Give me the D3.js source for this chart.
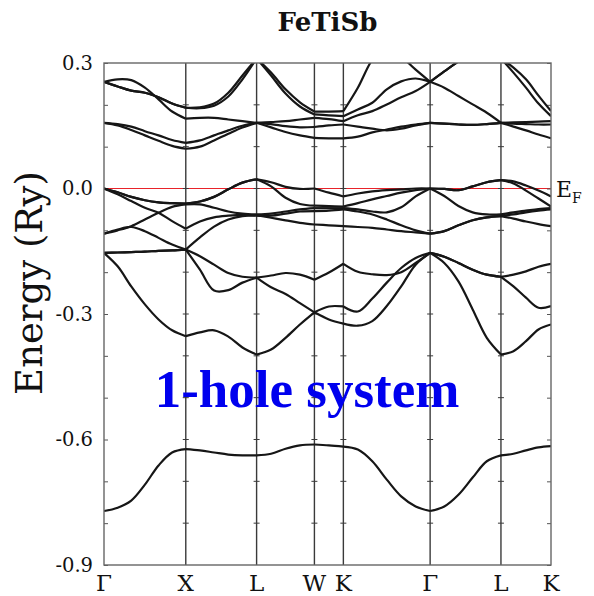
<!DOCTYPE html>
<html>
<head>
<meta charset="utf-8">
<script src="https://cdn.jsdelivr.net/npm/d3@7"></script>
<style>
  body { margin: 0; background: #fff; }
</style>
</head>
<body>
<div id="chart"></div>
<script>
// high symmetry points along the path (k in units of 2pi/a)
var symLabels = ["Γ", "X", "L", "W", "K", "Γ", "L", "K"];
var symK = [0, 1, 1.866, 2.573, 2.927, 3.988, 4.854, 5.466];

var kGrid = [0, 0.167, 0.333, 0.5, 0.667, 0.833, 1.0,
  1.173, 1.346, 1.52, 1.693, 1.866,
  2.043, 2.22, 2.396, 2.573,
  2.75, 2.927,
  3.104, 3.281, 3.458, 3.634, 3.811, 3.988,
  4.161, 4.334, 4.508, 4.681, 4.854,
  5.007, 5.16, 5.313, 5.466];
// index of grid point at each symmetry point
var segEnds = [0, 6, 11, 15, 17, 23, 28, 32];

// y axis
var yTicks = [-0.9, -0.8, -0.7, -0.6, -0.5, -0.4, -0.3, -0.2, -0.1, 0, 0.1, 0.2, 0.3];
var yLabels = {"-0.9": "-0.9", "-0.6": "-0.6", "-0.3": "-0.3", "0": "0.0", "0.3": "0.3"};

// bands (Ry)
var bandS = [-0.771, -0.763, -0.746, -0.708, -0.662, -0.631, -0.623,
  -0.626, -0.631, -0.636, -0.638, -0.638,
  -0.634, -0.622, -0.614, -0.612,
  -0.614, -0.617,
  -0.624, -0.652, -0.696, -0.736, -0.760, -0.771,
  -0.760, -0.732, -0.691, -0.652, -0.638,
  -0.634, -0.626, -0.619, -0.616];
var bandP1 = [-0.154, -0.186, -0.234, -0.277, -0.313, -0.339, -0.353,
  -0.344, -0.339, -0.354, -0.380, -0.397,
  -0.385, -0.357, -0.325, -0.296,
  -0.282, -0.282,
  -0.294, -0.263, -0.225, -0.190, -0.166, -0.154,
  -0.178, -0.222, -0.289, -0.357, -0.397,
  -0.389, -0.365, -0.337, -0.325];
var bandP2 = [-0.154, -0.153, -0.152, -0.151, -0.149, -0.148, -0.146,
  -0.162, -0.182, -0.202, -0.211, -0.213,
  -0.208, -0.202, -0.206, -0.218,
  -0.201, -0.180,
  -0.199, -0.205, -0.207, -0.200, -0.178, -0.154,
  -0.163, -0.178, -0.194, -0.206, -0.211,
  -0.206, -0.198, -0.187, -0.180];
var bandP3 = [-0.154, -0.153, -0.152, -0.151, -0.149, -0.148, -0.146,
  -0.194, -0.244, -0.243, -0.225, -0.213,
  -0.236, -0.252, -0.274, -0.296,
  -0.313, -0.323,
  -0.328, -0.317, -0.281, -0.234, -0.182, -0.154,
  -0.163, -0.178, -0.194, -0.206, -0.211,
  -0.234, -0.261, -0.285, -0.281];
var bandD1 = [0, -0.009, -0.020, -0.028, -0.033, -0.035, -0.036,
  -0.031, -0.020, -0.002, 0.014, 0.022,
  0.015, 0.004, -0.001, 0,
  -0.010, -0.019,
  -0.012, -0.007, -0.004, -0.002, 0, 0,
  -0.001, -0.004, 0.005, 0.015, 0.020,
  0.017, 0.007, -0.005, -0.019];
var bandD2 = [0, -0.009, -0.020, -0.028, -0.033, -0.035, -0.036,
  -0.031, -0.020, -0.002, 0.014, 0.022,
  0.005, -0.022, -0.037, -0.041,
  -0.042, -0.043,
  -0.035, -0.026, -0.018, -0.010, -0.004, 0,
  -0.001, -0.004, 0.005, 0.015, 0.020,
  0.012, -0.005, -0.024, -0.043];
var bandD3 = [0, -0.014, -0.030, -0.046, -0.058, -0.078, -0.096,
  -0.079, -0.069, -0.065, -0.063, -0.065,
  -0.065, -0.060, -0.055, -0.054,
  -0.053, -0.050,
  -0.055, -0.062, -0.074, -0.088, -0.100, -0.108,
  -0.102, -0.088, -0.076, -0.069, -0.066,
  -0.062, -0.057, -0.053, -0.050];
var bandD4 = [-0.108, -0.100, -0.090, -0.074, -0.058, -0.044, -0.038,
  -0.038, -0.046, -0.055, -0.060, -0.062,
  -0.060, -0.055, -0.050, -0.047,
  -0.047, -0.047,
  -0.050, -0.055, -0.057, -0.045, -0.019, 0,
  -0.018, -0.042, -0.057, -0.062, -0.062,
  -0.057, -0.053, -0.049, -0.047];
var bandD5 = [-0.108, -0.098, -0.092, -0.102, -0.118, -0.134, -0.146,
  -0.117, -0.091, -0.074, -0.066, -0.064,
  -0.070, -0.076, -0.082, -0.086,
  -0.088, -0.090,
  -0.092, -0.094, -0.098, -0.102, -0.105, -0.108,
  -0.102, -0.088, -0.076, -0.069, -0.066,
  -0.072, -0.079, -0.085, -0.090];
var bandC1 = [0.157, 0.154, 0.148, 0.137, 0.127, 0.116, 0.109,
  0.115, 0.127, 0.139, 0.150, 0.157,
  0.154, 0.149, 0.146, 0.147,
  0.151, 0.153,
  0.148, 0.143, 0.139, 0.143, 0.151, 0.157,
  0.155, 0.153, 0.152, 0.154, 0.157,
  0.155, 0.154, 0.153, 0.153];
var bandC2 = [0.157, 0.151, 0.140, 0.127, 0.114, 0.102, 0.095,
  0.100, 0.115, 0.131, 0.146, 0.157,
  0.146, 0.135, 0.127, 0.121,
  0.120, 0.120,
  0.124, 0.134, 0.141, 0.148, 0.153, 0.157,
  0.155, 0.153, 0.152, 0.154, 0.157,
  0.148, 0.139, 0.129, 0.120];
var bandC3 = [0.255, 0.261, 0.259, 0.241, 0.213, 0.184, 0.167,
  0.169, 0.169, 0.165, 0.161, 0.157,
  0.159, 0.161, 0.165, 0.169,
  0.166, 0.161,
  0.175, 0.185, 0.201, 0.218, 0.233, 0.255,
  0.241, 0.221, 0.201, 0.181, 0.157,
  0.158, 0.159, 0.160, 0.161];
var bandC4 = [0.255, 0.244, 0.234, 0.229, 0.218, 0.203, 0.193,
  0.192, 0.198, 0.220, 0.261, 0.311,
  0.270, 0.227, 0.196, 0.177,
  0.175, 0.173,
  0.189, 0.205, 0.237, 0.256, 0.263, 0.255,
  0.280, 0.304, 0.328, 0.332, 0.311,
  0.277, 0.241, 0.203, 0.173];
var bandC5 = [0.255, 0.244, 0.234, 0.229, 0.218, 0.203, 0.193,
  0.194, 0.203, 0.229, 0.270, 0.311,
  0.277, 0.237, 0.206, 0.184,
  0.184, 0.185,
  0.241, 0.308, 0.344, 0.316, 0.284, 0.255,
  0.280, 0.304, 0.328, 0.332, 0.311,
  0.289, 0.261, 0.222, 0.185];

var bands = [bandS, bandP1, bandP2, bandP3, bandD1, bandD2, bandD3, bandD4, bandD5,
  bandC1, bandC2, bandC3, bandC4, bandC5];

var width = 594, height = 596;
var plot = {left: 104, right: 551, top: 63, bottom: 565};

var svg = d3.select("#chart")
  .append("svg")
    .attr("width", width)
    .attr("height", height);

var x = d3.scaleLinear()
  .domain([symK[0], symK[symK.length - 1]])
  .range([plot.left, plot.right]);
var y = d3.scaleLinear()
  .domain([-0.9, 0.3])
  .range([plot.bottom, plot.top]);

svg.append("clipPath").attr("id", "clip")
  .append("rect")
    .attr("x", plot.left)
    .attr("y", plot.top)
    .attr("width", plot.right - plot.left)
    .attr("height", plot.bottom - plot.top);

// Fermi level
svg.append("line")
  .attr("x1", plot.left).attr("x2", plot.right)
  .attr("y1", y(0)).attr("y2", y(0))
  .style("stroke", "#e8232a")
  .style("stroke-width", 1.2);

// vertical lines at the symmetry points
var inner = symK.slice(1, -1);
svg.append("g").selectAll("line")
  .data(inner)
  .enter().append("line")
    .attr("x1", function(d) { return x(d); })
    .attr("x2", function(d) { return x(d); })
    .attr("y1", plot.top).attr("y2", plot.bottom)
    .style("stroke", "#3a3a3a")
    .style("stroke-width", 1.4);

// small ticks across the vertical lines
inner.forEach(function(k) {
  svg.append("g").selectAll("line")
    .data(yTicks.slice(1, -1))
    .enter().append("line")
      .attr("x1", x(k) - 3).attr("x2", x(k) + 3)
      .attr("y1", function(d) { return y(d); })
      .attr("y2", function(d) { return y(d); })
      .style("stroke", "#3a3a3a")
      .style("stroke-width", 1);
});

// left axis with inward ticks
var yAxis = svg.append("g")
  .attr("transform", "translate(" + plot.left + ",0)")
  .call(d3.axisLeft(y)
    .tickValues(yTicks)
    .tickSize(-4)
    .tickPadding(11)
    .tickFormat(function(d) { var k = String(+d.toFixed(1)); return yLabels[k] || ""; }));
yAxis.select(".domain").remove();
yAxis.selectAll("line").style("stroke", "#555");
yAxis.selectAll("text")
  .style("font-family", "DejaVu Serif")
  .style("font-size", "19.5px")
  .style("fill", "#111");

var yAxisR = svg.append("g")
  .attr("transform", "translate(" + plot.right + ",0)")
  .call(d3.axisRight(y).tickValues(yTicks).tickSize(-4).tickFormat(""));
yAxisR.select(".domain").remove();
yAxisR.selectAll("line").style("stroke", "#555");

// bands, drawn segment by segment
var bandLine = d3.line()
  .x(function(d) { return x(d[0]); })
  .y(function(d) { return y(d[1]); })
  .curve(d3.curveCatmullRom.alpha(0.5));

var gb = svg.append("g").attr("clip-path", "url(#clip)");
bands.forEach(function(b) {
  for (var s = 0; s < segEnds.length - 1; s++) {
    var pts = [];
    for (var i = segEnds[s]; i <= segEnds[s + 1]; i++) pts.push([kGrid[i], b[i]]);
    gb.append("path")
      .datum(pts)
      .attr("d", bandLine)
      .attr("fill", "none")
      .attr("stroke", "#161616")
      .attr("stroke-width", 2.2)
      .attr("stroke-linejoin", "round");
  }
});

// frame
svg.append("rect")
  .attr("x", plot.left).attr("y", plot.top)
  .attr("width", plot.right - plot.left)
  .attr("height", plot.bottom - plot.top)
  .style("fill", "none")
  .style("stroke", "#666")
  .style("stroke-width", 1.4);

// k labels
svg.append("g").selectAll("text")
  .data(symK)
  .enter().append("text")
    .attr("x", function(d) { return x(d); })
    .attr("y", 591)
    .attr("text-anchor", "middle")
    .style("font-family", "DejaVu Serif")
    .style("font-size", "23px")
    .style("fill", "#111")
    .text(function(d, i) { return symLabels[i]; });

// title
svg.append("text")
  .attr("x", (plot.left + plot.right) / 2)
  .attr("y", 31)
  .attr("text-anchor", "middle")
  .style("font-family", "DejaVu Serif")
  .style("font-weight", "bold")
  .style("font-size", "26px")
  .style("fill", "#111")
  .text("FeTiSb");

// y label
svg.append("text")
  .attr("transform", "translate(42,283)rotate(-90)")
  .attr("text-anchor", "middle")
  .style("font-family", "DejaVu Serif")
  .style("font-size", "37px")
  .style("fill", "#111")
  .text("Energy (Ry)");

// E_F label
var ef = svg.append("text")
  .attr("x", 556)
  .attr("y", 197)
  .style("font-family", "DejaVu Serif")
  .style("font-size", "22px")
  .style("fill", "#111");
ef.append("tspan").text("E");
ef.append("tspan").attr("dy", 6).style("font-size", "14px").text("F");

// annotation
svg.append("text")
  .attr("x", 307)
  .attr("y", 407)
  .attr("text-anchor", "middle")
  .style("font-family", "Liberation Serif")
  .style("font-weight", "bold")
  .style("font-size", "53px")
  .style("fill", "#0000ee")
  .text("1-hole system");
</script>
</body>
</html>
